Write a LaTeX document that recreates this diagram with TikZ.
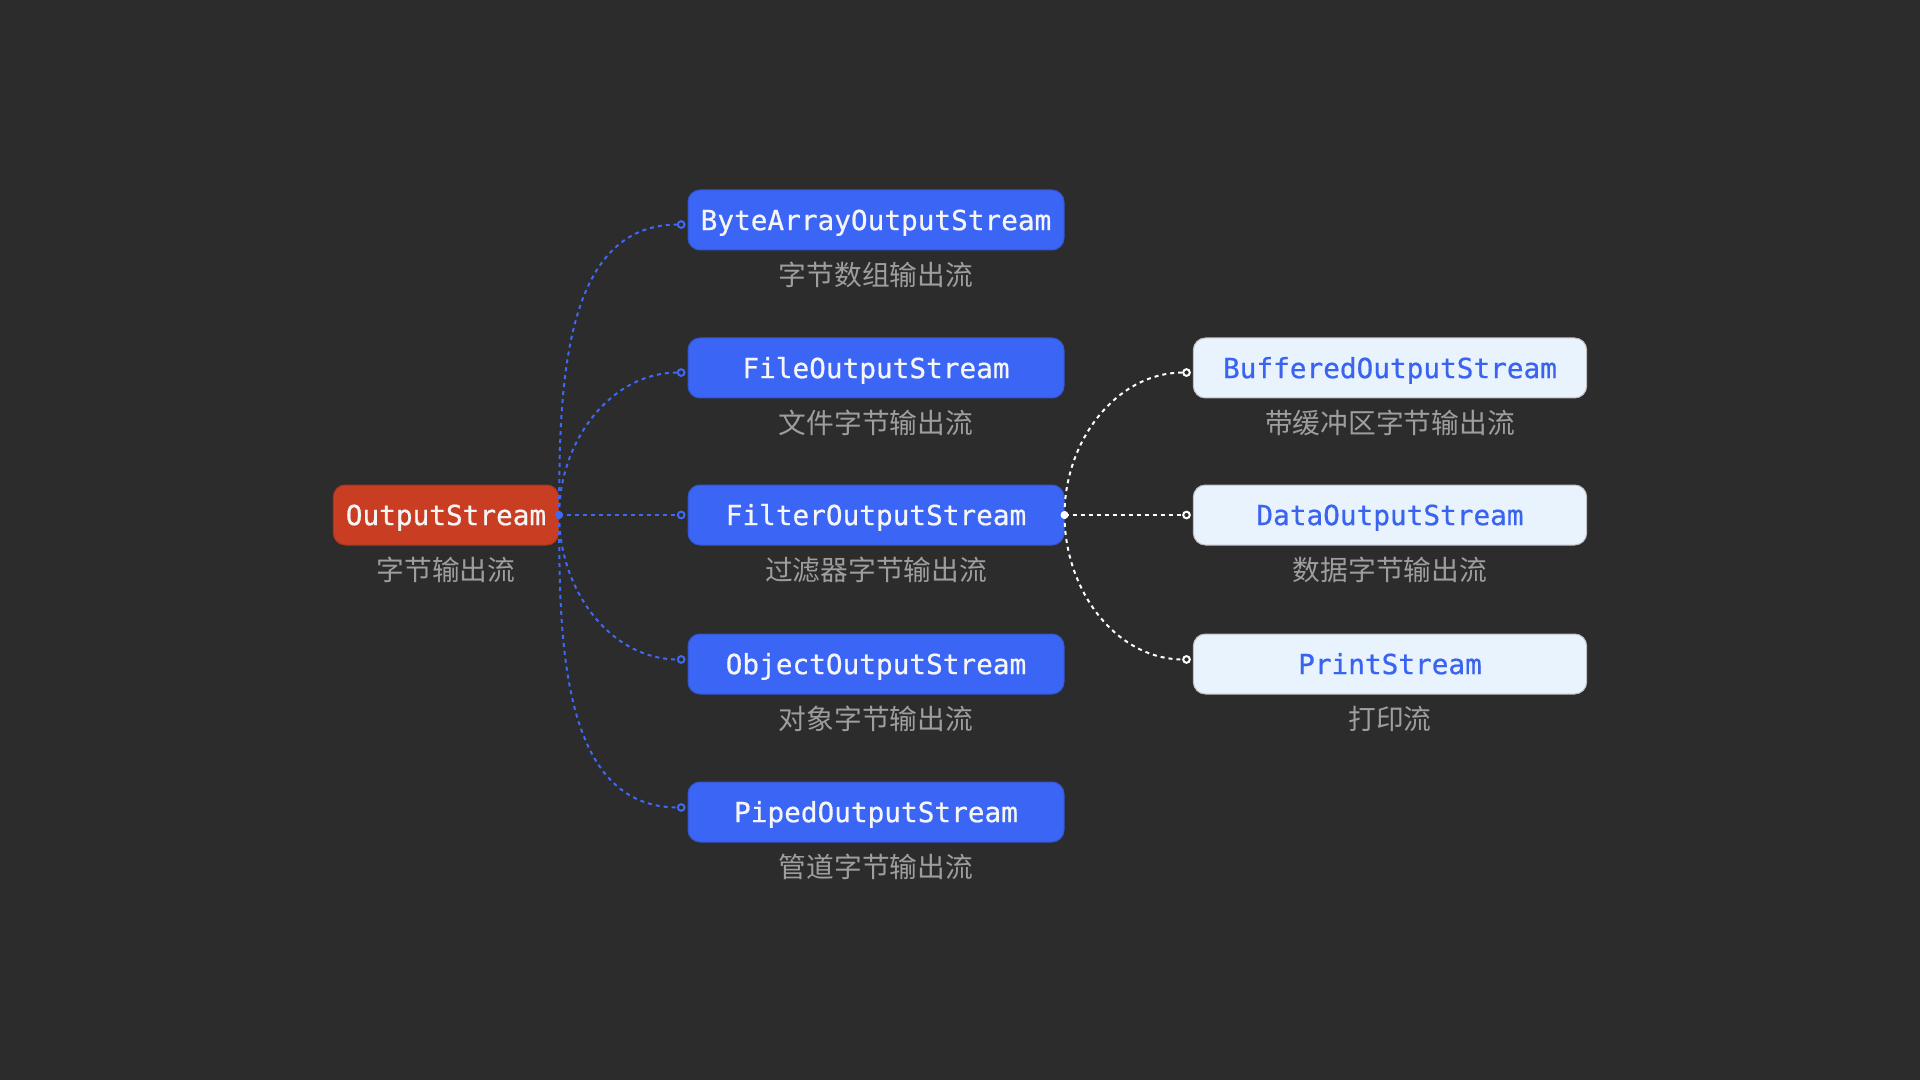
\documentclass[tikz,border=0pt]{standalone}
\usepackage{fontspec}
\setmonofont{DejaVu Sans Mono}
\newfontfamily\boxfont{DejaVu Sans Mono}[FakeBold=0.6]
\newfontfamily\cjk{Noto Sans CJK SC}
\usepackage{tikz}
\usetikzlibrary{arrows.meta}
\definecolor{bgdark}{RGB}{44,44,44}
\definecolor{boxblue}{RGB}{59,101,245}
\definecolor{boxred}{RGB}{201,62,34}
\definecolor{boxlight}{RGB}{232,243,253}
\definecolor{textblue}{RGB}{58,100,240}
\definecolor{subgray}{RGB}{158,158,158}
\definecolor{linkblue}{RGB}{62,104,245}

\begin{document}
\begin{tikzpicture}[x=0.75pt,y=-0.75pt,
	box/.style={rounded corners=9pt,minimum height=45pt,inner sep=0pt,line width=0.75pt,
		text height=15.2pt,text depth=0pt,font=\boxfont\fontsize{20.8}{24}\selectfont},
	rootbox/.style={box,fill=boxred,draw=boxred!85!black,text=white!96!black,minimum width=169pt},
	midbox/.style={box,fill=boxblue,draw=boxblue!85!black,text=white!96!black,minimum width=282pt},
	leafbox/.style={box,fill=boxlight,draw=black!25,text=textblue,minimum width=295pt},
	sub/.style={inner sep=0pt,text=subgray,font=\cjk\fontsize{20.8}{24}\selectfont},
	link/.style={line width=1.5pt,dash pattern=on 3pt off 3pt,
		-{Circle[open,length=6.5pt,width=6.5pt]}}]
			\fill[bgdark] (0,0) rectangle (1920,1080);
			
			% root
			
			\node[rootbox] (os) at (446,515) {OutputStream};
			\node[sub] (os-l) at (446,570) {字节输出流};
			
			% children
			
			\foreach \n/\y/\t/\l in {bao/220/ByteArrayOutputStream/字节数组输出流,
				fos/368/FileOutputStream/文件字节输出流,
				filt/515/FilterOutputStream/过滤器字节输出流,
				oos/664/ObjectOutputStream/对象字节输出流,
				pos/812/PipedOutputStream/管道字节输出流} {
				\node[midbox] (\n) at (876,\y) {\t};
				\node[sub] (\n-l) at (876,\y+55) {\l};
			}
			
			% filter children
			
			\foreach \n/\y/\t/\l in {bos/368/BufferedOutputStream/带缓冲区字节输出流,
				dos/515/DataOutputStream/数据字节输出流,
				ps/664/PrintStream/打印流} {
				\node[leafbox] (\n) at (1390,\y) {\t};
				\node[sub] (\n-l) at (1390,\y+55) {\l};
			}
			
			% links
			
			\foreach \n in {bao,fos}
				\draw[link,linkblue] (os.east) to[out=90,in=180] ([xshift=-1.5pt,yshift=-3.4pt]\n.west);
			\foreach \n in {oos,pos}
				\draw[link,linkblue] (os.east) to[out=270,in=180] ([xshift=-1.5pt,yshift=3.4pt]\n.west);
			\draw[link,linkblue] (os.east) -- ([xshift=-1.5pt]filt.west);
			\fill[linkblue] (os.east) circle (3pt);
			
			\draw[link,white] (filt.east) to[out=90,in=180] ([xshift=-1.5pt,yshift=-3.4pt]bos.west);
			\draw[link,white] (filt.east) to[out=270,in=180] ([xshift=-1.5pt,yshift=3.4pt]ps.west);
			\draw[link,white] (filt.east) -- ([xshift=-1.5pt]dos.west);
			\fill[white] (filt.east) circle (3pt);
			
		\end{tikzpicture}
\end{document}
